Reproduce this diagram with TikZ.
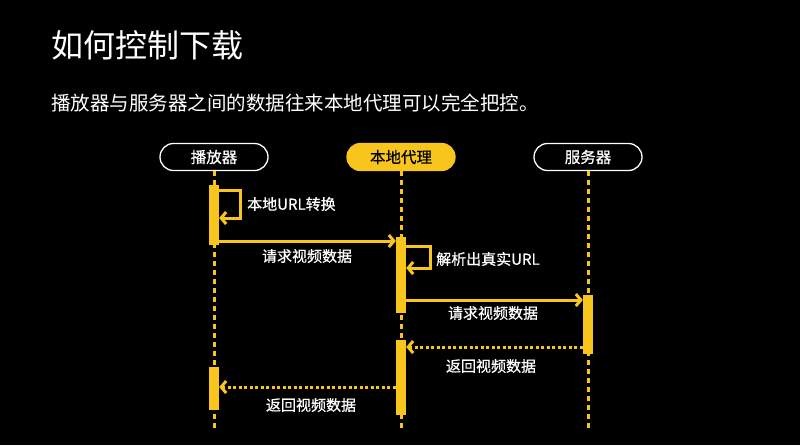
\documentclass[tikz,border=0pt]{standalone}
\usepackage{fontspec}
\newfontfamily\cjk{Noto Sans CJK SC}
\newfontfamily\cjkb[FakeBold=0.6]{Noto Sans CJK SC}
\usetikzlibrary{arrows.meta,calc}
\definecolor{yel}{HTML}{F8C51C}
\begin{document}
\begin{tikzpicture}[x=1pt,y=-1pt,
  actor/.style={draw=white,line width=1.3pt,rounded corners=13.5pt,minimum width=108pt,minimum height=27pt,font=\cjkb\fontsize{15.5}{18}\selectfont,text=white,fill=black,inner sep=0pt},
  lifeline/.style={draw=yel,line width=3pt,dash pattern=on 5pt off 4pt},
  bar/.style={fill=yel,draw=none,minimum width=10pt,inner sep=0pt},
  msg/.style={draw=yel,line width=3pt,-{Straight Barb[length=5pt,width=12pt,line width=3pt]}},
  ret/.style={draw=yel,line width=3pt,dash pattern=on 3pt off 2.5pt,-{Straight Barb[length=5pt,width=12pt,line width=3pt]}},
  lbl/.style={text=white,font=\cjkb\fontsize{15}{18}\selectfont,inner sep=0pt}
]
\fill[black] (0,0) rectangle (800,445);
\useasboundingbox (0,0) rectangle (800,445);

\node[anchor=west,text=white,font=\cjk\fontsize{32}{38}\selectfont,inner sep=0pt] (title) at (51,45) {如何控制下载};
\node[anchor=west,text=white,font=\cjk\fontsize{19.5}{23}\selectfont,inner sep=0pt] (sub) at (51,103) {播放器与服务器之间的数据往来本地代理可以完全把控。};

% lifelines
\coordinate (pe) at (214,432);
\coordinate (xe) at (401,432);
\coordinate (se) at (588,432);
\node[actor] (player) at (214,157) {播放器};
\node[actor,draw=yel,fill=yel,text=black] (proxy) at (401,157) {本地代理};
\node[actor] (server) at (588,157) {服务器};
\draw[lifeline] (player.south) -- (pe);
\draw[lifeline] (proxy.south) -- (xe);
\draw[lifeline] (server.south) -- (se);

% activation bars
\node[bar,minimum height=60pt] (pb1) at (214,215) {};
\node[bar,minimum height=43pt] (pb2) at (214,388) {};
\node[bar,minimum height=76pt] (xb1) at (401,275) {};
\node[bar,minimum height=75pt] (xb2) at (401,377.5) {};
\node[bar,minimum height=59pt] (sb1) at (588,324.5) {};

% self call on player
\coordinate (c1) at (240,190);
\coordinate (c2) at (240,218);
\draw[msg] (pb1.east |- c1) -- (c1) -- (c2) -- (pb1.east |- c2);
\node[lbl,anchor=west] (l1) at (247,204) {本地URL转换};

% request player -> proxy
\coordinate (m1) at (0,241);
\draw[msg] (pb1.east |- m1) -- (xb1.west |- m1);
\node[lbl] (l2) at (307,256) {请求视频数据};

% self call on proxy
\coordinate (c3) at (430,246);
\coordinate (c4) at (430,268);
\draw[msg] (xb1.east |- c3) -- (c3) -- (c4) -- (xb1.east |- c4);
\node[lbl,anchor=west] (l3) at (436,259) {解析出真实URL};

% request proxy -> server
\coordinate (m2) at (0,300);
\draw[msg] (xb1.east |- m2) -- (sb1.west |- m2);
\node[lbl] (l4) at (493,313) {请求视频数据};

% return server -> proxy
\coordinate (m3) at (0,347);
\draw[ret] (sb1.west |- m3) -- (xb2.east |- m3);
\node[lbl] (l5) at (491,366) {返回视频数据};

% return proxy -> player
\coordinate (m4) at (0,387);
\draw[ret] (xb2.west |- m4) -- (pb2.east |- m4);
\node[lbl] (l6) at (311,405) {返回视频数据};
\end{tikzpicture}
\end{document}
